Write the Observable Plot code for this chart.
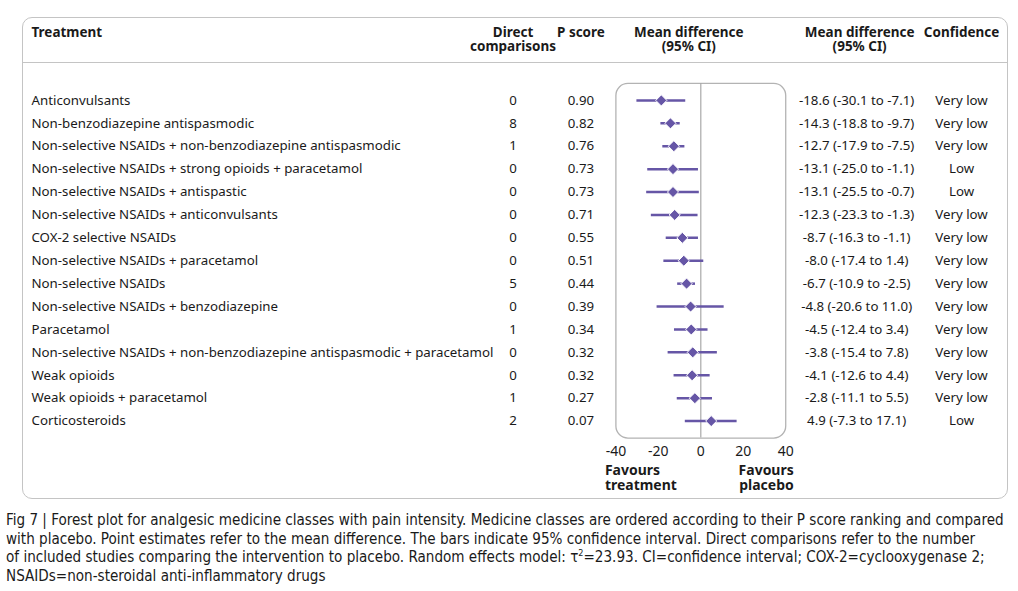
<!DOCTYPE html>
<html>
<head>
<meta charset="utf-8">
<script src="https://cdn.jsdelivr.net/npm/d3@7"></script>
<script src="https://cdn.jsdelivr.net/npm/@observablehq/plot@0.6"></script>
<style>
  html, body { margin: 0; padding: 0; background: #fff; }
  body { width: 1018px; height: 591px; position: relative; overflow: hidden; }
  #box { position: absolute; left: 22px; top: 17px; width: 984px; height: 480px;
         border: 1.3px solid #c4c4c4; border-radius: 10px; overflow: hidden; }
  #hline { position: absolute; left: 0; right: 0; top: 44px; border-top: 1.3px solid #c4c4c4; }
  #chart { position: absolute; left: 0; top: 0; }
  #caption { position: absolute; left: 6px; top: 511px; width: 1012px;
             font-family: "DejaVu Sans Condensed", "DejaVu Sans", sans-serif; font-stretch: condensed;
             font-size: 14.5px; line-height: 18.5px; color: #1a1a1a; white-space: nowrap; }
  #caption sup { font-size: 9px; line-height: 0; }
</style>
</head>
<body>
<div id="box"><div id="chart"></div><div id="hline"></div></div>
<div id="caption"><span id="l1">Fig 7 | Forest plot for analgesic medicine classes with pain intensity. Medicine classes are ordered according to their P score ranking and compared</span><br>with placebo. Point estimates refer to the mean difference. The bars indicate 95% confidence interval. Direct comparisons refer to the number<br>of included studies comparing the intervention to placebo. Random effects model: τ<sup>2</sup>=23.93. CI=confidence interval; COX-2=cyclooxygenase 2;<br>NSAIDs=non-steroidal anti-inflammatory drugs</div>
<script>
const treatments = [
  "Anticonvulsants",
  "Non-benzodiazepine antispasmodic",
  "Non-selective NSAIDs + non-benzodiazepine antispasmodic",
  "Non-selective NSAIDs + strong opioids + paracetamol",
  "Non-selective NSAIDs + antispastic",
  "Non-selective NSAIDs + anticonvulsants",
  "COX-2 selective NSAIDs",
  "Non-selective NSAIDs + paracetamol",
  "Non-selective NSAIDs",
  "Non-selective NSAIDs + benzodiazepine",
  "Paracetamol",
  "Non-selective NSAIDs + non-benzodiazepine antispasmodic + paracetamol",
  "Weak opioids",
  "Weak opioids + paracetamol",
  "Corticosteroids"
];
const directComparisons = [0, 8, 1, 0, 0, 0, 0, 0, 5, 0, 1, 0, 0, 1, 2];
const pScores = [0.90, 0.82, 0.76, 0.73, 0.73, 0.71, 0.55, 0.51, 0.44, 0.39, 0.34, 0.32, 0.32, 0.27, 0.07];
const meanDiff = [-18.6, -14.3, -12.7, -13.1, -13.1, -12.3, -8.7, -8.0, -6.7, -4.8, -4.5, -3.8, -4.1, -2.8, 4.9];
const ciLow = [-30.1, -18.8, -17.9, -25.0, -25.5, -23.3, -16.3, -17.4, -10.9, -20.6, -12.4, -15.4, -12.6, -11.1, -7.3];
const ciHigh = [-7.1, -9.7, -7.5, -1.1, -0.7, -1.3, -1.1, 1.4, -2.5, 11.0, 3.4, 7.8, 4.4, 5.5, 17.1];
const confidence = ["Very low", "Very low", "Very low", "Low", "Low", "Very low", "Very low", "Very low", "Very low", "Very low", "Very low", "Very low", "Very low", "Very low", "Low"];
const xTicks = [-40, -20, 0, 20, 40];

const rows = treatments.map((t, i) => ({
  t,
  direct: directComparisons[i],
  p: pScores[i].toFixed(2),
  md: meanDiff[i], lo: ciLow[i], hi: ciHigh[i],
  mdText: `${meanDiff[i].toFixed(1)} (${ciLow[i].toFixed(1)} to ${ciHigh[i].toFixed(1)})`,
  conf: confidence[i]
}));

const purple = "#6656a6";
const ink = "#1a1a1a";
const font = "'Noto Sans', 'Open Sans', sans-serif";
const hdr = {frameAnchor: "top", lineAnchor: "top", fontWeight: "bold", fontSize: 13.5, fill: ink, lineHeight: 1.08, dy: -57};

const chart = Plot.plot({
  width: 985, height: 481,
  marginLeft: 593, marginRight: 222, marginTop: 65, marginBottom: 61,
  x: {domain: [-40, 40]},
  y: {type: "point", domain: treatments, range: [82, 403], padding: 0, round: false, axis: null},
  style: {fontFamily: font, fontSize: "13.3px", color: ink, background: "transparent"},
  marks: [
    Plot.frame({rx: 12, stroke: "#b3b3b3", strokeWidth: 1.3}),
    Plot.ruleX([0], {stroke: "#a8a8a8", strokeWidth: 1.2}),
    Plot.ruleY(rows, {y: "t", x1: "lo", x2: "hi", stroke: purple, strokeWidth: 2.5}),
    Plot.dot(rows, {x: "md", y: "t", symbol: "diamond2", r: 5, fill: purple, stroke: "white", strokeWidth: 1}),
    Plot.axisX({ticks: xTicks, tickSize: 0, tickPadding: 8, fontSize: 14, label: null, tickFormat: d => String(d), fill: ink}),
    // table columns
    Plot.text(rows, {y: "t", text: "t", frameAnchor: "left", textAnchor: "start", dx: -585, fill: ink}),
    Plot.text(rows, {y: "t", text: "direct", frameAnchor: "left", textAnchor: "middle", dx: -103, fill: ink}),
    Plot.text(rows, {y: "t", text: "p", frameAnchor: "left", textAnchor: "middle", dx: -35, fill: ink}),
    Plot.text(rows, {y: "t", text: "mdText", frameAnchor: "right", textAnchor: "middle", dx: 71, fill: ink}),
    Plot.text(rows, {y: "t", text: "conf", frameAnchor: "right", textAnchor: "middle", dx: 176, fill: ink}),
    // headers
    Plot.text(["Treatment"], {...hdr, frameAnchor: "top-left", textAnchor: "start", dx: -585}),
    Plot.text(["Direct\ncomparisons"], {...hdr, frameAnchor: "top-left", textAnchor: "middle", dx: -103}),
    Plot.text(["P score"], {...hdr, frameAnchor: "top-left", textAnchor: "middle", dx: -35}),
    Plot.text(["Mean difference\n(95% CI)"], {...hdr, frameAnchor: "top-left", textAnchor: "middle", dx: 73}),
    Plot.text(["Mean difference\n(95% CI)"], {...hdr, frameAnchor: "top-right", textAnchor: "middle", dx: 74}),
    Plot.text(["Confidence"], {...hdr, frameAnchor: "top-right", textAnchor: "middle", dx: 176}),
    // favours labels
    Plot.text(["Favours\ntreatment"], {frameAnchor: "bottom-left", textAnchor: "start", lineAnchor: "top", dx: -11, dy: 27, fontWeight: "bold", fontSize: 14, lineHeight: 1.05, fill: ink}),
    Plot.text(["Favours\nplacebo"], {frameAnchor: "bottom-right", textAnchor: "end", lineAnchor: "top", dx: 8, dy: 27, fontWeight: "bold", fontSize: 14, lineHeight: 1.05, fill: ink})
  ]
});
document.getElementById("chart").appendChild(chart);

// fit caption's first line to the reference width
const l1 = document.getElementById("l1");
const w = l1.getBoundingClientRect().width;
const cap = document.getElementById("caption");
const fs = 14.5 * 999 / w;
cap.style.fontSize = Math.min(fs, 17) + "px";
</script>
</body>
</html>
